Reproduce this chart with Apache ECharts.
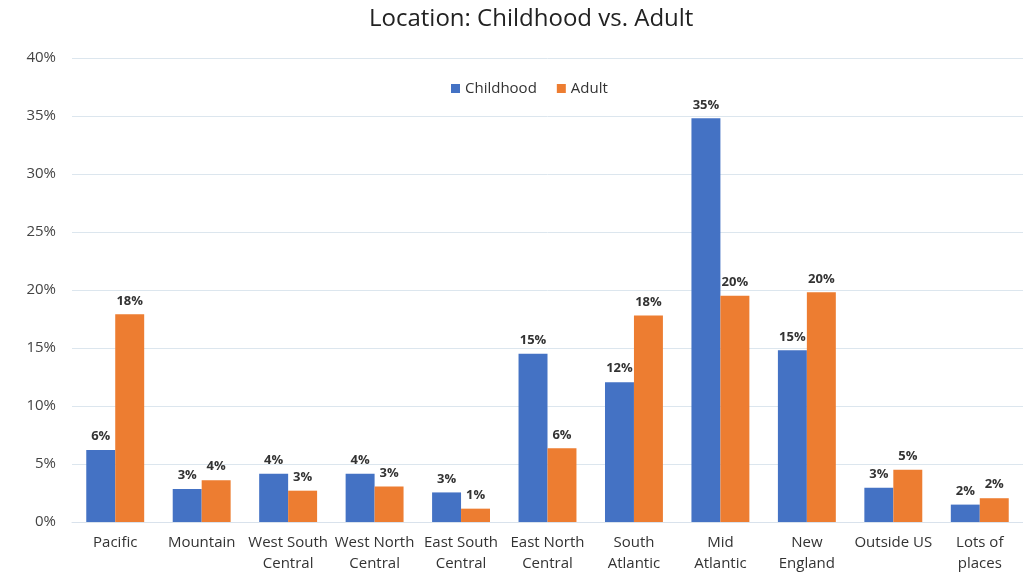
<!DOCTYPE html>
<html>
<head>
<meta charset="utf-8">
<script src="https://cdn.jsdelivr.net/npm/echarts@6/dist/echarts.min.js"></script>
<style>
  html, body { margin: 0; padding: 0; background: #fff; }
  #chart { width: 1023px; height: 580px; }
</style>
</head>
<body>
<div id="chart"></div>
<script>
const CATEGORIES = [
  'Pacific', 'Mountain', 'West South\nCentral', 'West North\nCentral', 'East South\nCentral',
  'East North\nCentral', 'South\nAtlantic', 'Mid\nAtlantic', 'New\nEngland', 'Outside US', 'Lots of\nplaces',
];
const CHILDHOOD = [6.2, 2.85, 4.15, 4.15, 2.55, 14.5, 12.05, 34.8, 14.8, 2.95, 1.5];
const ADULT = [17.9, 3.6, 2.7, 3.05, 1.15, 6.35, 17.8, 19.5, 19.8, 4.5, 2.05];
const Y_TICKS = { min: 0, max: 40, interval: 5 };

const FONT = '"Open Sans", "Liberation Sans", sans-serif';
const INK = '#333';

const chart = echarts.init(document.getElementById('chart'));

const barLabel = {
  show: true,
  position: 'top',
  distance: 7,
  color: INK,
  fontFamily: FONT,
  fontSize: 13,
  fontWeight: 'bold',
  formatter: p => Math.round(p.value) + '%',
};

chart.setOption({
  backgroundColor: '#fff',
  animation: false,
  title: {
    text: 'Location: Childhood vs. Adult',
    left: 364,
    top: 2,
    textStyle: { color: '#222', fontFamily: FONT, fontSize: 24, fontWeight: 'normal' },
  },
  legend: {
    top: 76,
    left: 446,
    itemWidth: 9,
    itemHeight: 9,
    itemGap: 20,
    icon: 'rect',
    textStyle: { color: INK, fontFamily: FONT, fontSize: 15 },
    data: ['Childhood', 'Adult'],
  },
  grid: { left: 72, right: -2, top: 58, bottom: 58 },
  xAxis: {
    type: 'category',
    data: CATEGORIES,
    axisTick: { show: false },
    axisLine: { lineStyle: { color: '#d9e2ec' } },
    axisLabel: {
      color: INK,
      fontFamily: FONT,
      fontSize: 15,
      lineHeight: 21,
      margin: 10,
      interval: 0,
    },
  },
  yAxis: {
    type: 'value',
    ...Y_TICKS,
    axisLine: { show: false },
    axisTick: { show: false },
    splitLine: { lineStyle: { color: '#dce6ee', width: 1 } },
    axisLabel: {
      color: '#444',
      fontFamily: FONT,
      fontSize: 15,
      margin: 16,
      formatter: '{value}%',
    },
  },
  series: [
    {
      name: 'Childhood',
      type: 'bar',
      data: CHILDHOOD,
      barGap: '0%',
      barCategoryGap: '33%',
      itemStyle: { color: '#4472c4' },
      label: barLabel,
    },
    {
      name: 'Adult',
      type: 'bar',
      data: ADULT,
      itemStyle: { color: '#ed7d31' },
      label: barLabel,
    },
  ],
});
</script>
</body>
</html>
